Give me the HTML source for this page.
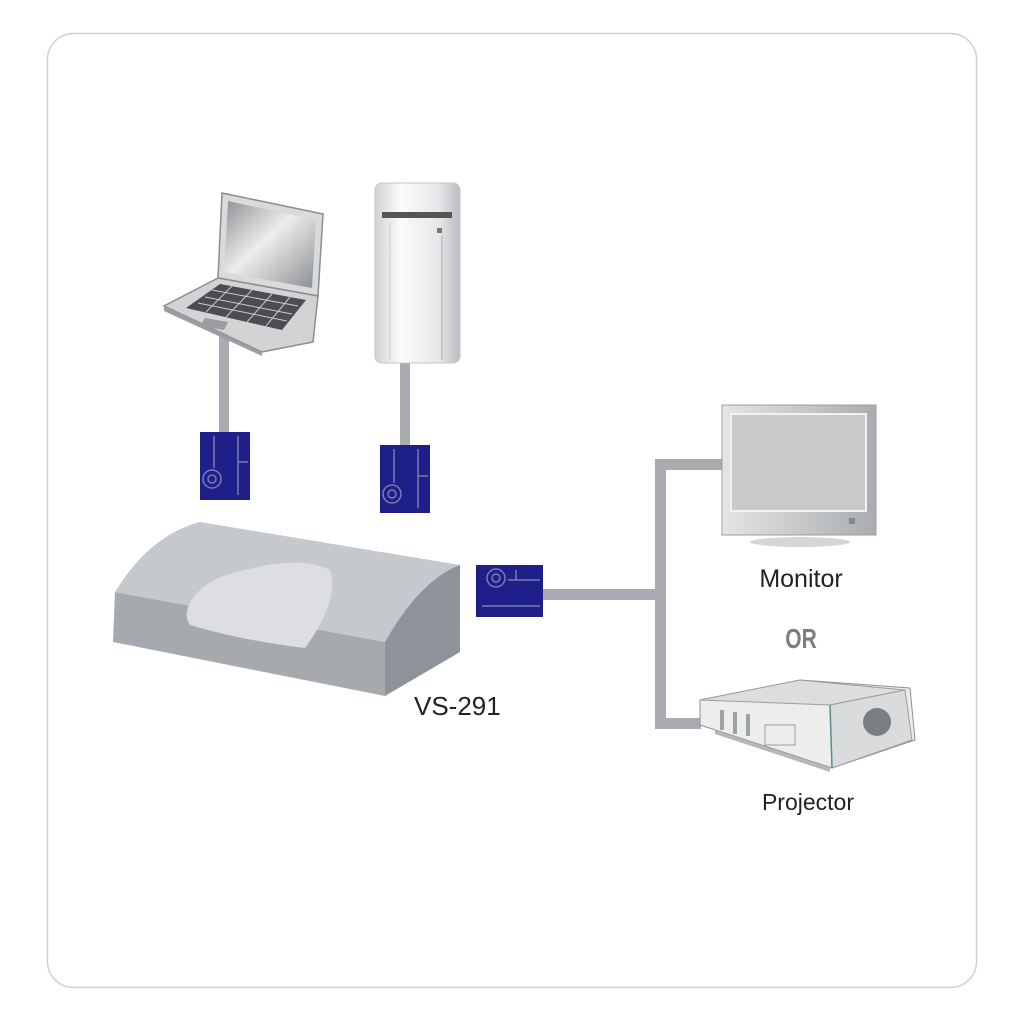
<!DOCTYPE html>
<html><head><meta charset="utf-8"><style>
html,body{margin:0;padding:0;background:#fff;}
svg{display:block;}
text{font-family:"Liberation Sans",sans-serif;}
</style></head><body>
<svg width="1024" height="1024" viewBox="0 0 1024 1024" xmlns="http://www.w3.org/2000/svg">
<defs>
<linearGradient id="tw" x1="0" x2="1"><stop offset="0" stop-color="#cfd2d5"/><stop offset="0.3" stop-color="#fbfbfb"/><stop offset="0.75" stop-color="#e6e7e9"/><stop offset="1" stop-color="#b9bcc0"/></linearGradient>
<linearGradient id="scr" x1="0" y1="0" x2="1" y2="1"><stop offset="0" stop-color="#8d9094"/><stop offset="0.45" stop-color="#eceded"/><stop offset="1" stop-color="#8a8d91"/></linearGradient>
<linearGradient id="mon" x1="0" x2="1"><stop offset="0" stop-color="#e4e5e6"/><stop offset="1" stop-color="#a9acaf"/></linearGradient>
</defs>
<rect x="47.5" y="33.5" width="929" height="954" rx="26" fill="#fff" stroke="#cfcfcf" stroke-width="1.5"/>

<!-- cables -->
<rect x="219" y="330" width="10" height="104" fill="#a9abb0"/>
<rect x="400" y="360" width="10" height="88" fill="#a9abb0"/>
<rect x="540" y="589" width="122" height="11" fill="#a9abb0"/>
<rect x="655" y="459" width="11" height="270" fill="#a9abb0"/>
<rect x="655" y="459" width="70" height="11" fill="#a9abb0"/>
<rect x="655" y="718" width="46" height="11" fill="#a9abb0"/>

<!-- laptop -->
<polygon points="222,193 323,214 318,296 218,278" fill="#d9dadc" stroke="#8a8c90" stroke-width="1.5"/>
<polygon points="228,201 316,220 312,288 224,272" fill="url(#scr)"/>
<polygon points="218,278 318,296 313,342 262,352 164,306" fill="#d2d3d5" stroke="#8a8c90" stroke-width="1.5"/>
<polygon points="220,284 306,300 282,330 186,308" fill="#4b4d52"/>
<g stroke="#c9cacc" stroke-width="1">
<line x1="212" y1="290" x2="298" y2="306"/><line x1="205" y1="297" x2="292" y2="314"/><line x1="198" y1="303" x2="287" y2="321"/>
<line x1="232" y1="286" x2="206" y2="312"/><line x1="252" y1="290" x2="226" y2="317"/><line x1="272" y1="294" x2="247" y2="322"/><line x1="290" y1="297" x2="266" y2="326"/>
</g>
<polygon points="205,318 228,322 224,330 200,326" fill="#9a9ca0"/>
<polygon points="164,306 262,352 262,356 164,311" fill="#9b9da1"/>

<!-- tower -->
<rect x="375" y="183" width="85" height="180" rx="7" fill="url(#tw)" stroke="#c4c6c9"/>
<rect x="382" y="212" width="70" height="6" fill="#555"/>
<rect x="437" y="228" width="5" height="5" fill="#777"/>
<line x1="390" y1="222" x2="390" y2="360" stroke="#c8cacd"/>
<line x1="442" y1="236" x2="442" y2="360" stroke="#aeb1b4"/>

<!-- connectors -->
<g fill="#1f1f8a">
<rect x="200" y="432" width="50" height="68"/>
<rect x="380" y="445" width="50" height="68"/>
<rect x="476" y="565" width="67" height="52"/>
</g>
<g fill="none" stroke="#7a7ab0" stroke-width="1.5">
<circle cx="212" cy="479" r="9"/><circle cx="212" cy="479" r="4"/>
<line x1="238" y1="436" x2="238" y2="495"/><line x1="214" y1="436" x2="214" y2="468"/><line x1="238" y1="462" x2="248" y2="462"/>
<circle cx="392" cy="494" r="9"/><circle cx="392" cy="494" r="4"/>
<line x1="418" y1="449" x2="418" y2="508"/><line x1="394" y1="449" x2="394" y2="483"/><line x1="418" y1="476" x2="428" y2="476"/>
<circle cx="496" cy="578" r="9"/><circle cx="496" cy="578" r="4"/>
<line x1="482" y1="606" x2="540" y2="606"/><line x1="508" y1="580" x2="540" y2="580"/><line x1="516" y1="570" x2="516" y2="580"/>
</g>

<!-- VS-291 box -->
<path d="M200,522 L460,565 Q420,580 385,642 L115,592 Q150,535 200,522 Z" fill="#c5c8cc"/>
<path d="M115,592 L385,642 L385,696 L113,642 Z" fill="#a6aaaf"/>
<path d="M385,642 Q420,580 460,565 L460,652 L385,696 Z" fill="#8e9399"/>
<path d="M245,570 Q300,555 330,570 Q340,600 305,648 Q240,640 190,625 Q180,610 200,590 Q215,576 245,570 Z" fill="#dcdee1"/>
<text x="414" y="715" font-size="26" fill="#222">VS-291</text>

<!-- monitor -->
<rect x="722" y="405" width="154" height="130" fill="url(#mon)" stroke="#9a9da0"/>
<rect x="731" y="414" width="135" height="97" fill="#c9cacc" stroke="#f2f2f2" stroke-width="2"/>
<rect x="849" y="518" width="6" height="6" fill="#888"/>
<ellipse cx="800" cy="542" rx="50" ry="5" fill="#d5d6d8"/>
<text x="801" y="587" font-size="25" fill="#222" text-anchor="middle">Monitor</text>
<text x="801" y="648" font-size="28" font-weight="bold" fill="#7d7d7d" text-anchor="middle" transform="translate(801 0) scale(0.75 1) translate(-801 0)">OR</text>

<!-- projector -->
<polygon points="700,700 800,680 910,688 915,740 832,768 700,725" fill="#eceded" stroke="#8e9195"/>
<polygon points="700,700 800,680 905,690 830,705" fill="#dcdddf" stroke="#9a9da0"/>
<polygon points="830,705 905,690 912,740 832,768" fill="#dadbdd" stroke="#9a9da0"/>
<line x1="830" y1="705" x2="832" y2="768" stroke="#5a8f90" stroke-width="1.5"/>
<circle cx="877" cy="722" r="14" fill="#7b7f84"/>
<g fill="#9ea1a5"><rect x="720" y="710" width="4" height="20"/><rect x="733" y="712" width="4" height="22"/><rect x="746" y="714" width="4" height="22"/></g>
<rect x="765" y="725" width="30" height="20" fill="none" stroke="#9a9da0"/>
<polygon points="715,730 830,768 830,772 715,734" fill="#b5b7ba"/>
<text x="808" y="810" font-size="23" fill="#222" text-anchor="middle">Projector</text>
</svg>
</body></html>
